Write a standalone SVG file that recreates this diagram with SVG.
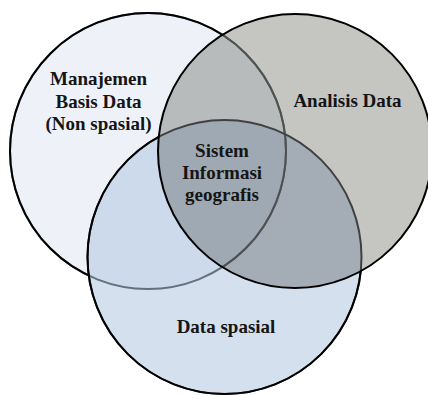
<svg xmlns="http://www.w3.org/2000/svg" width="428" height="395" viewBox="0 0 428 395">
<style>
text{font-family:"Liberation Serif","Times New Roman",serif;font-weight:bold;font-size:19px;fill:#151515;text-anchor:middle}
.ol{fill:none;stroke-width:2}
</style>
<defs>
<circle id="cL" cx="148" cy="151" r="138"/>
<circle id="cB" cx="224.5" cy="257" r="137"/>
<circle id="cR" cx="295" cy="151" r="137"/>
<clipPath id="inR"><use href="#cR"/></clipPath>
<mask id="mOutBR" maskUnits="userSpaceOnUse" x="0" y="0" width="428" height="395"><rect width="428" height="395" fill="#fff"/><use href="#cB" fill="#000"/><use href="#cR" fill="#000"/></mask>
<mask id="mOutR" maskUnits="userSpaceOnUse" x="0" y="0" width="428" height="395"><rect width="428" height="395" fill="#fff"/><use href="#cR" fill="#000"/></mask>
</defs>
<rect width="428" height="395" fill="#fff"/>
<g id="node-manajemen">
<use href="#cL" fill="#eef2f8"/>
<text x="98.5" y="85">Manajemen</text>
<text x="98.5" y="107.5">Basis Data</text>
<text x="98.5" y="130">(Non spasial)</text>
</g>
<g id="node-data-spasial">
<use href="#cB" fill="#b4c9e1" fill-opacity="0.57"/>
<text x="226" y="333">Data spasial</text>
</g>
<g id="node-analisis-data">
<use href="#cR" fill="#0d0d00" fill-opacity="0.24"/>
<text x="347.5" y="107">Analisis Data</text>
</g>
<g id="outlines" class="ol">
<use href="#cL" stroke="#66707c"/>
<use href="#cL" stroke="#505050" clip-path="url(#inR)"/>
<use href="#cL" stroke="#000" mask="url(#mOutBR)"/>
<use href="#cB" stroke="#404040"/>
<use href="#cB" stroke="#000" mask="url(#mOutR)"/>
<use href="#cR" stroke="#000"/>
</g>
<g id="node-sistem-informasi-geografis">
<text x="222" y="157">Sistem</text>
<text x="222" y="179">Informasi</text>
<text x="222" y="201">geografis</text>
</g>
</svg>
